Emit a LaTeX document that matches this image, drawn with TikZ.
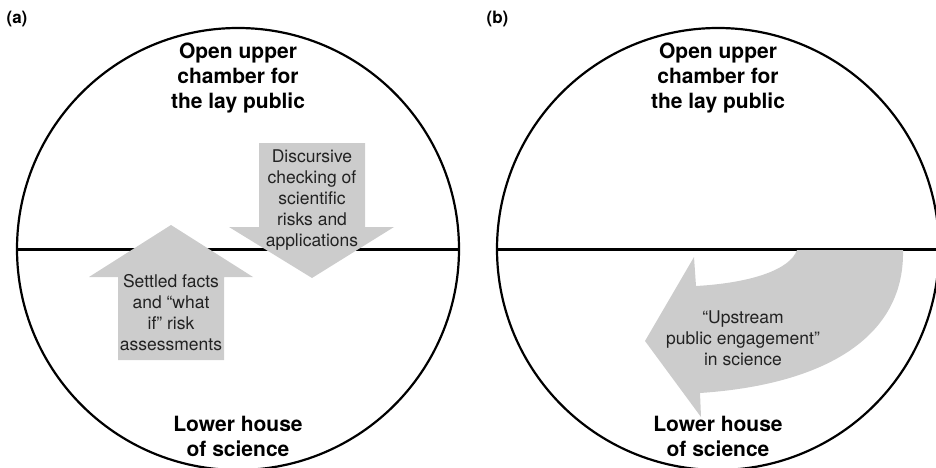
\documentclass[tikz,border=0pt]{standalone}
\usepackage{fontspec}
\setsansfont{TeX Gyre Heros}
\definecolor{arrowgray}{HTML}{CCCCCC}
\definecolor{notegray}{HTML}{222222}
\begin{document}
\begin{tikzpicture}[x=1pt,y=-1pt,
  rim/.style={line width=2.2pt},
  band/.style={fill=arrowgray,draw=none},
  house/.style={font=\sffamily\bfseries\fontsize{21}{25}\selectfont,align=center,inner sep=0pt},
  note/.style={font=\sffamily\fontsize{17.5}{21}\selectfont,align=center,inner sep=0pt,text=notegray},
  tag/.style={font=\sffamily\bfseries\fontsize{17}{19}\selectfont,inner sep=0pt}]
\useasboundingbox (0,0) rectangle (936,468);
\clip (0,0) rectangle (936,468);

% ---------- panel (a) ----------
\coordinate (ca) at (238,249);
\draw[rim] (ca) circle[radius=221pt];
\coordinate (aw) at (17,249.5);
\coordinate (ae) at (459,249.5);
\draw[rim] (aw) -- (ae);

% upward arrow: settled facts
\fill[band] (118,360) -- (118,277) -- (89,277) -- (171,225) -- (253,277)
  -- (224,277) -- (224,360) -- cycle;
% downward arrow: discursive checking
\fill[band] (259,143) -- (365,143) -- (365,227) -- (394,227) -- (312,278)
  -- (229,227) -- (259,227) -- cycle;

\node[tag] (la) at (17,19) {(a)};
\node[house] (upa) at (238,78) {Open upper\\chamber for\\the lay public};
\node[house] (lowa) at (238,436) {Lower house\\of science};
\node[note] (facts) at (171,313) {Settled facts\\and “what\\if” risk\\assessments};
\node[note] (check) at (312,200) {Discursive\\checking of\\scientific\\risks and\\applications};

% ---------- panel (b) ----------
\coordinate (cb) at (718,249);
\draw[rim] (cb) circle[radius=221pt];
\coordinate (bw) at (497,249.5);
\coordinate (be) at (936,249.5);
\draw[rim] (bw) -- (be);

% curved arrow: upstream engagement
\fill[band] (797,250) -- (903,250)
  .. controls (905,340) and (820,385) .. (700,393)
  -- (701,417) -- (645,341) -- (694,257) -- (696,286)
  .. controls (750,283) and (790,270) .. (797,250) -- cycle;

\node[tag] (lb) at (497.5,19) {(b)};
\node[house] (upb) at (718,78) {Open upper\\chamber for\\the lay public};
\node[house] (lowb) at (718,436) {Lower house\\of science};
\node[note] (upstream) at (743,338) {“Upstream\\public engagement”\\in science};
\end{tikzpicture}
\end{document}
